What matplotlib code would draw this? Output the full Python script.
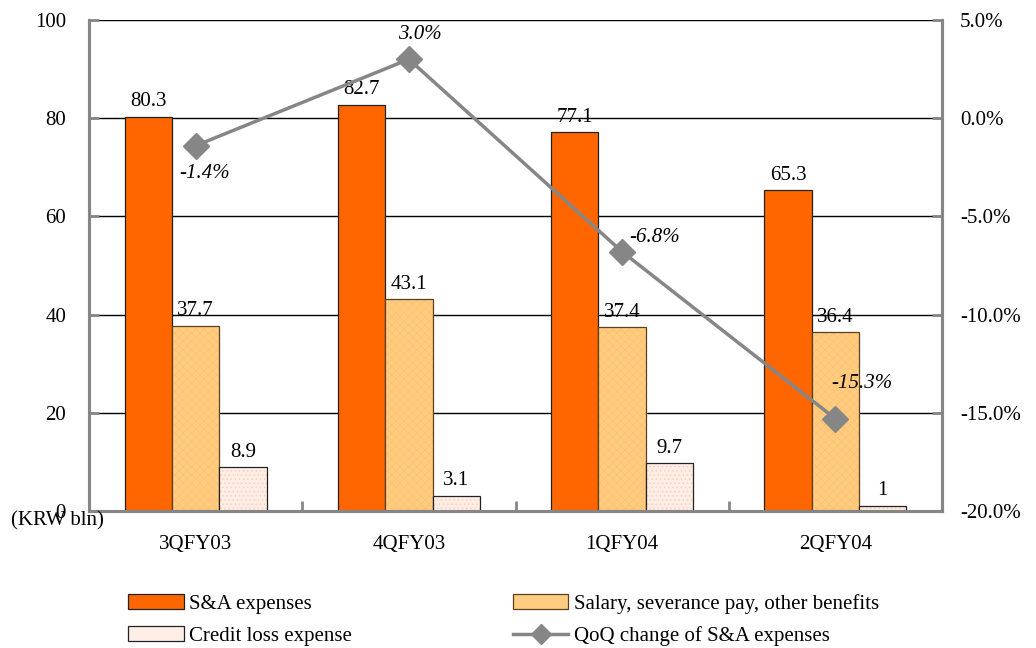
import matplotlib.pyplot as plt
import numpy as np
from matplotlib.lines import Line2D
from matplotlib.patches import Patch

quarters = ["3QFY03", "4QFY03", "1QFY04", "2QFY04"]
sa_expenses = [80.3, 82.7, 77.1, 65.3]
salary = [37.7, 43.1, 37.4, 36.4]
credit_loss = [8.9, 3.1, 9.7, 1]
qoq_change = [-1.4, 3.0, -6.8, -15.3]
left_ticks = [0, 20, 40, 60, 80, 100]
right_ticks = [-20, -15, -10, -5, 0, 5]

plt.rcParams["font.family"] = ["Liberation Serif", "DejaVu Serif"]
plt.rcParams["hatch.linewidth"] = 0.6

fig = plt.figure(figsize=(10.36, 6.48), dpi=100)
ax = fig.add_axes([89 / 1036, 1 - 511 / 648, 853 / 1036, 491 / 648])
ax2 = ax.twinx()

x = np.arange(len(quarters))
w = 0.222
c_sa = "#FF6600"
c_sal = "#FFCC80"
c_cr = "#FFEEE6"
grey = "#868686"
edge = "#222222"
fs = 15

ax.set_zorder(1)
ax2.set_zorder(2)
ax.patch.set_visible(False)

# horizontal gridlines
for yv in left_ticks[1:]:
    ax.axhline(yv, color="black", lw=1.0, zorder=0)

b1 = ax.bar(x - w, sa_expenses, w, color=c_sa, edgecolor=edge, lw=0.9, zorder=2)
b2 = ax.bar(x, salary, w, color=c_sal, edgecolor="#5a4020", lw=0.9,
            hatch="xxxx", zorder=2)
for b in b2:
    b._hatch_color = (1.0, 0.76, 0.45, 1.0)
b3 = ax.bar(x + w, credit_loss, w, color=c_cr, edgecolor=edge, lw=0.9,
            hatch="....", zorder=2)
for b in b3:
    b._hatch_color = (1.0, 0.80, 0.72, 1.0)

# value labels above bars
for bars, vals in ((b1, sa_expenses), (b2, salary), (b3, credit_loss)):
    for b, v in zip(bars, vals):
        ax.text(b.get_x() + b.get_width() / 2, v + 3.1, f"{v:g}",
                ha="center", va="center", fontsize=fs)

ax.set_xlim(-0.5, 3.5)
ax.set_ylim(0, 100)
ax.set_yticks(left_ticks)
ax.set_xticks([0.5, 1.5, 2.5])
ax.set_xticklabels([])
ax.tick_params(axis="x", direction="in", length=7, color=grey, width=2)
ax.tick_params(axis="y", direction="in", length=7, color=grey, width=2,
               labelsize=fs, pad=16.5)
for i, q in enumerate(quarters):
    ax.text(i, -6.9, q, ha="center", va="center", fontsize=fs)
fig.text(11 / 1036, 1 - 521 / 648, "(KRW bln)", fontsize=fs,
         ha="left", va="center")

# QoQ change line on the secondary axis
ax2.plot(x, qoq_change, color=grey, lw=2.5, marker="D", markersize=13,
         markerfacecolor=grey, markeredgecolor=grey, zorder=3)
pct_pos = [(0.044, -2.8), (1.052, 4.24), (2.154, -6.05), (3.125, -13.53)]
for v, (px, py) in zip(qoq_change, pct_pos):
    ax2.text(px, py, f"{v:.1f}%", ha="center", va="center", fontsize=fs,
             style="italic")
ax2.set_ylim(-20, 5)
ax2.set_yticks(right_ticks)
ax2.set_yticklabels([f"{t:.1f}%" for t in right_ticks])
ax2.tick_params(axis="y", direction="in", length=7, color=grey, width=2,
                labelsize=fs, pad=13)

for a in (ax, ax2):
    a.spines["top"].set_visible(False)
    for s in ("left", "right", "bottom"):
        a.spines[s].set_color(grey)
        a.spines[s].set_linewidth(2.2)

h_sa = Patch(facecolor=c_sa, edgecolor=edge, lw=0.9)
h_sal = Patch(facecolor=c_sal, edgecolor="#5a4020", lw=0.9)
h_cr = Patch(facecolor=c_cr, edgecolor=edge, lw=0.9)
h_qoq = Line2D([0], [0], color=grey, lw=2.5, marker="D", markersize=10,
               markerfacecolor=grey, markeredgecolor=grey)
fig.legend([h_sa, h_cr, h_sal, h_qoq],
           ["S&A expenses", "Credit loss expense",
            "Salary, severance pay, other benefits",
            "QoQ change of S&A expenses"],
           ncol=2, loc="center left",
           bbox_to_anchor=(120 / 1036, 1 - 620 / 648), frameon=False,
           fontsize=fs, handlelength=2.65, handleheight=0.7,
           handletextpad=0.25, columnspacing=7.75, labelspacing=0.6,
           borderaxespad=0)

fig.savefig("out.png", dpi=100)
